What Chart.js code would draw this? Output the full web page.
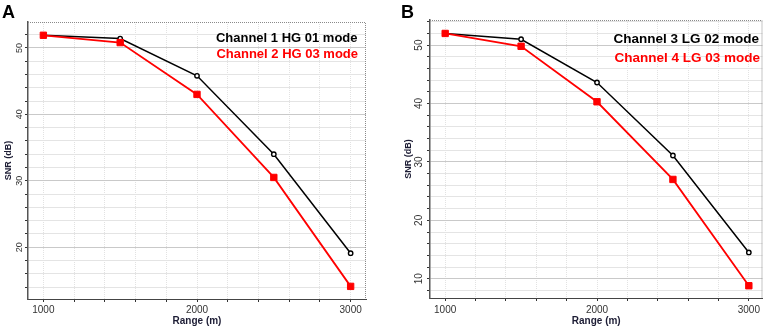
<!DOCTYPE html>
<html lang="en">
<head>
  <meta charset="UTF-8" />
  <title>SNR vs Range</title>
  <script src="https://cdn.jsdelivr.net/npm/chart.js"></script>
  <style>
    body { margin: 0; background: #fff; }
    .panel { position: absolute; top: 0; width: 384px; height: 327px; }
    #panelA { left: 0; }
    #panelB { left: 384px; }
  </style>
</head>
<body>

<div class="panel" id="panelA"><canvas id="chartA" width="384" height="327"></canvas></div>
<div class="panel" id="panelB"><canvas id="chartB" width="384" height="327"></canvas></div>

<script>
  // ranges in metres, SNR in dB
  const ranges = [1000, 1500, 2000, 2500, 3000];
  const ch1HG01 = [51.9, 51.4, 45.8, 34.0, 19.1];
  const ch2HG03 = [51.9, 50.8, 43.0, 30.5, 14.1];
  const ch3LG02 = [52.0, 51.0, 43.6, 31.1, 14.5];
  const ch4LG03 = [52.0, 49.8, 40.3, 27.0, 8.8];

  const xTickLabels = [1000, 2000, 3000];
  const xGridStep = 200;
  const yTickLabelsA = [20, 30, 40, 50];
  const yTickLabelsB = [10, 20, 30, 40, 50];

  const FONT = "Arial, 'Liberation Sans', sans-serif";

  const toPoints = vals => ranges.map((r, i) => ({ x: r, y: vals[i] }));

  // panel letter, dotted top/right frame and the in-plot legend text
  const decorPlugin = {
    id: 'decor',
    beforeDatasetsDraw(chart, args, opts) {
      const { ctx, chartArea: a } = chart;
      ctx.save();
      ctx.strokeStyle = '#8a8a8a';
      ctx.lineWidth = 1;
      ctx.setLineDash([1, 1]);
      ctx.beginPath();
      ctx.moveTo(a.left, a.top + 0.5);
      ctx.lineTo(a.right - 0.5, a.top + 0.5);
      ctx.lineTo(a.right - 0.5, a.bottom);
      ctx.stroke();
      ctx.restore();
    },
    afterDraw(chart, args, opts) {
      const { ctx } = chart;
      ctx.save();
      ctx.fillStyle = '#000';
      ctx.font = `bold 18px ${FONT}`;
      ctx.textAlign = 'left';
      ctx.textBaseline = 'alphabetic';
      ctx.fillText(opts.letter, opts.letterX, 17.5);

      ctx.font = `bold ${opts.legendSize}px ${FONT}`;
      ctx.textAlign = 'right';
      ctx.textBaseline = 'middle';
      opts.legend.forEach(l => {
        ctx.fillStyle = l.color;
        ctx.fillText(l.text, l.x, l.y);
      });
      ctx.restore();
    }
  };

  function makeChart(id, s) {
    return new Chart(document.getElementById(id), {
      type: 'line',
      data: {
        datasets: [
          {
            label: s.redLabel,
            data: toPoints(s.red),
            borderColor: '#ff0000',
            backgroundColor: '#ff0000',
            borderWidth: 1.8,
            pointStyle: 'rect',
            pointRadius: 4.5,
            pointBorderWidth: 1,
            pointBackgroundColor: '#ff0000',
            pointBorderColor: '#ff0000',
            tension: 0
          },
          {
            label: s.blackLabel,
            data: toPoints(s.black),
            borderColor: '#000',
            backgroundColor: '#fff',
            borderWidth: 1.5,
            pointStyle: 'circle',
            pointRadius: 2.2,
            pointBorderWidth: 1.4,
            pointBackgroundColor: '#fff',
            pointBorderColor: '#000',
            tension: 0
          }
        ]
      },
      options: {
        responsive: false,
        animation: false,
        layout: { padding: { top: s.padTop, right: s.padRight, left: 0, bottom: 0 } },
        plugins: {
          legend: { display: false },
          tooltip: { enabled: false },
          decor: s.decor
        },
        scales: {
          x: {
            type: 'linear',
            min: 900,
            max: s.xMax,
            afterFit: sc => { sc.height = s.xHeight; },
            // grid every 200 m starting from the first labelled range
            afterBuildTicks: sc => {
              const t = [];
              for (let v = xTickLabels[0]; v <= xTickLabels[xTickLabels.length - 1]; v += xGridStep) t.push({ value: v });
              sc.ticks = t;
            },
            ticks: {
              padding: s.xTickPad,
              color: '#333',
              font: { family: FONT, size: 10 },
              maxRotation: 0,
              autoSkip: false,
              callback: v => xTickLabels.includes(v) ? String(v) : ''
            },
            grid: { color: '#e2e2e2', tickColor: '#333', tickLength: 3, lineWidth: 1 },
            border: { color: '#444', width: 1, dash: [1, 1] },
            title: {
              display: true,
              text: 'Range (m)',
              color: '#1c1c34',
              font: { family: FONT, size: 10, weight: 'bold' },
              padding: { top: 0, bottom: 0 }
            }
          },
          y: {
            min: s.yMin,
            max: s.yMax,
            afterFit: sc => { sc.width = s.yWidth; },
            ticks: {
              stepSize: 2,
              includeBounds: false,
              minRotation: 90,
              maxRotation: 90,
              crossAlign: 'center',
              padding: s.yTickPad,
              color: '#333',
              font: { family: FONT, size: s.yTickSize },
              autoSkip: false,
              callback: v => s.yLabels.includes(v) ? String(v) : ''
            },
            grid: {
              color: c => (c.tick && c.tick.value % 10 === 0) ? '#c9c9c9' : '#e4e4e4',
              tickColor: '#333',
              tickLength: 3
            },
            border: { color: '#555', width: 1.5 },
            title: {
              display: true,
              text: 'SNR (dB)',
              color: '#1c1c34',
              font: { family: FONT, size: 9, weight: 'bold' },
              padding: { top: s.yTitlePad, bottom: 0 }
            }
          }
        }
      },
      plugins: [decorPlugin]
    });
  }

  makeChart('chartA', {
    black: ch1HG01, red: ch2HG03,
    blackLabel: 'Channel 1 HG 01 mode', redLabel: 'Channel 2 HG 03 mode',
    xMax: 3100, yMin: 12.2, yMax: 53.9, yLabels: yTickLabelsA,
    padTop: 22, padRight: 18, yWidth: 28, xHeight: 28,
    xTickPad: 2, yTickPad: 0, yTickSize: 9, yTitlePad: 3.5,
    decor: {
      letter: 'A', letterX: 2, legendSize: 13,
      legend: [
        { text: 'Channel 1 HG 01 mode', color: '#000', x: 357.5, y: 38 },
        { text: 'Channel 2 HG 03 mode', color: '#ff0000', x: 358, y: 54 }
      ]
    }
  });

  makeChart('chartB', {
    black: ch3LG02, red: ch4LG03,
    blackLabel: 'Channel 3 LG 02 mode', redLabel: 'Channel 4 LG 03 mode',
    xMax: 3090, yMin: 6.7, yMax: 54.3, yLabels: yTickLabelsB,
    padTop: 20, padRight: 4, yWidth: 46, xHeight: 29,
    xTickPad: 3, yTickPad: 2, yTickSize: 10, yTitlePad: 19,
    decor: {
      letter: 'B', letterX: 17, legendSize: 13.5,
      legend: [
        { text: 'Channel 3 LG 02 mode', color: '#000', x: 375, y: 39.5 },
        { text: 'Channel 4 LG 03 mode', color: '#ff0000', x: 376, y: 58.5 }
      ]
    }
  });
</script>
</body>
</html>
